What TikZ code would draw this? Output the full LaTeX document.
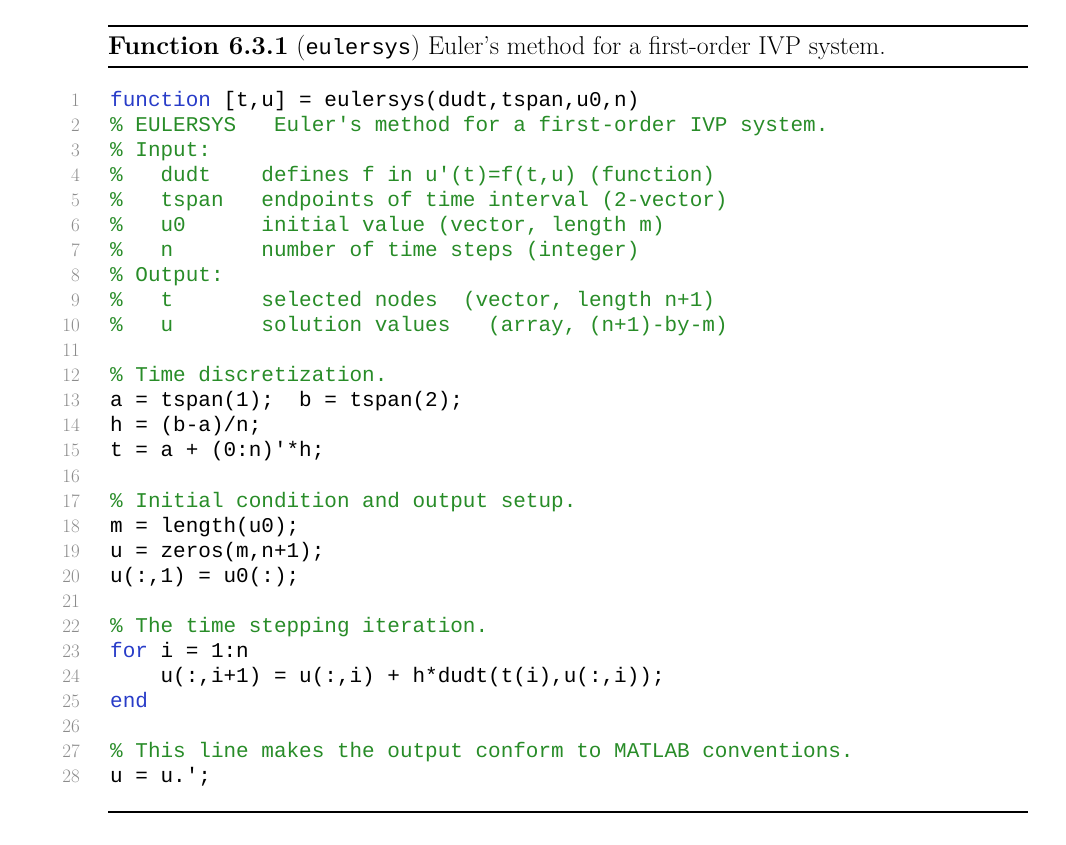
\documentclass[tikz,border=0pt]{standalone}
\usepackage{fontspec}
\newfontfamily\code{Liberation Mono}
\definecolor{kw}{RGB}{40,60,200}
\definecolor{cm}{RGB}{40,140,40}
\definecolor{ln}{RGB}{140,140,140}
\begin{document}
\begin{tikzpicture}[x=1pt,y=1pt,
  cl/.style={anchor=base west,inner sep=0pt,font=\code\fontsize{21}{21}\selectfont},
  nl/.style={anchor=base east,inner sep=0pt,text=ln,font=\fontsize{19}{19}\selectfont},
  rl/.style={line width=1.6pt}]
\useasboundingbox (0,0) rectangle (1066,-844);
\draw[rl,line width=2pt] (108,-26) coordinate (r1a) -- (1028,-26) coordinate (r1b);
\draw[rl] (108,-67) coordinate (r2a) -- (1028,-67) coordinate (r2b);
\draw[rl,line width=2pt] (108,-812) coordinate (r3a) -- (1028,-812) coordinate (r3b);
\node[anchor=base west,inner sep=0pt,font=\fontsize{25.8}{26}\selectfont] (title) at (108,-54)
  {\textbf{Function 6.3.1} ({\code\fontsize{22}{22}\selectfont eulersys}) Euler's method for a first-order IVP system.};
\newcommand\CodeLine[2]{%
  \node[nl] (n#1) at (80,{-106-25.07*(#1-1)}) {#1};
  \node[cl] (c#1) at (110,{-106-25.07*(#1-1)}) {#2};}
\CodeLine{1}{\textcolor{kw}{function} [t,u] = eulersys(dudt,tspan,u0,n)}
\CodeLine{2}{\textcolor{cm}{\% EULERSYS~~~Euler's method for a first-order IVP system.}}
\CodeLine{3}{\textcolor{cm}{\% Input:}}
\CodeLine{4}{\textcolor{cm}{\%~~~dudt~~~~defines f in u'(t)=f(t,u) (function)}}
\CodeLine{5}{\textcolor{cm}{\%~~~tspan~~~endpoints of time interval (2-vector)}}
\CodeLine{6}{\textcolor{cm}{\%~~~u0~~~~~~initial value (vector, length m)}}
\CodeLine{7}{\textcolor{cm}{\%~~~n~~~~~~~number of time steps (integer)}}
\CodeLine{8}{\textcolor{cm}{\% Output:}}
\CodeLine{9}{\textcolor{cm}{\%~~~t~~~~~~~selected nodes~~(vector, length n+1)}}
\CodeLine{10}{\textcolor{cm}{\%~~~u~~~~~~~solution values~~~(array, (n+1)-by-m)}}
\CodeLine{11}{}
\CodeLine{12}{\textcolor{cm}{\% Time discretization.}}
\CodeLine{13}{a = tspan(1);~~b = tspan(2);}
\CodeLine{14}{h = (b-a)/n;}
\CodeLine{15}{t = a + (0:n)'*h;}
\CodeLine{16}{}
\CodeLine{17}{\textcolor{cm}{\% Initial condition and output setup.}}
\CodeLine{18}{m = length(u0);}
\CodeLine{19}{u = zeros(m,n+1);}
\CodeLine{20}{u(:,1) = u0(:);}
\CodeLine{21}{}
\CodeLine{22}{\textcolor{cm}{\% The time stepping iteration.}}
\CodeLine{23}{\textcolor{kw}{for} i = 1:n}
\CodeLine{24}{~~~~u(:,i+1) = u(:,i) + h*dudt(t(i),u(:,i));}
\CodeLine{25}{\textcolor{kw}{end}}
\CodeLine{26}{}
\CodeLine{27}{\textcolor{cm}{\% This line makes the output conform to MATLAB conventions.}}
\CodeLine{28}{u = u.';}
\end{tikzpicture}
\end{document}
